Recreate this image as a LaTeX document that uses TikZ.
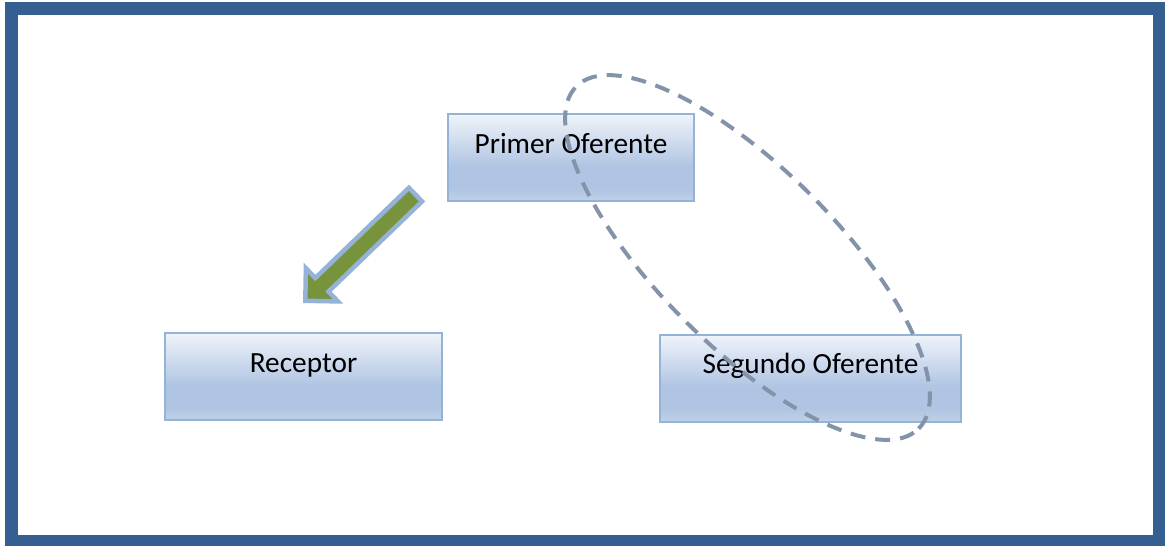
\documentclass[tikz,border=0pt]{standalone}
\usepackage{fontspec}
\setmainfont{Carlito}
\definecolor{framecol}{RGB}{54,95,145}
\definecolor{boxborder}{RGB}{149,179,215}
\definecolor{boxtop}{RGB}{240,244,250}
\definecolor{boxbot}{RGB}{176,197,227}
\definecolor{boxlow}{RGB}{190,207,232}
\definecolor{ellcol}{RGB}{131,148,170}
\definecolor{arrowfill}{RGB}{119,147,60}
\definecolor{arrowline}{RGB}{149,179,215}
\pgfdeclareverticalshading{boxshade}{100bp}{color(0bp)=(boxlow); color(26bp)=(boxlow); color(32bp)=(boxbot); color(45bp)=(boxbot); color(75bp)=(boxtop); color(100bp)=(boxtop)}
\tikzset{
  box/.style={draw=boxborder, line width=2pt, shade, shading=boxshade,
    minimum height=87pt, text height=20pt, text depth=29pt, inner sep=0pt,
    font=\fontsize{29.3}{34}\selectfont, text=black},
  framebox/.style={draw=framecol, line width=13pt},
  blockarrow/.style={draw=arrowline, fill=arrowfill, line width=4.5pt, line join=miter},
  groupring/.style={draw=ellcol, line width=4pt, dash pattern=on 15pt off 10pt}
}
\begin{document}
\begin{tikzpicture}[x=1pt,y=-1pt]
\useasboundingbox (0,0) rectangle (1165,546);
\draw[framebox] (11.5,8) rectangle (1159,541);
\node[box, minimum width=246pt] (p1) at (571,157.5) {Primer Oferente};
\node[box, minimum width=277pt] (rec) at (303.5,376.5) {Receptor};
\node[box, minimum width=301pt] (p2) at (810.5,378) {Segundo Oferente};
\draw[blockarrow] (305.3,300.8) -- (337.9,301.4) -- (328.5,291.6) -- (422.1,201.4)
  -- (408.9,187.8) -- (315.3,278.0) -- (305.9,268.2) -- cycle;
\coordinate (ringc) at (747.5,257.5);
\draw[groupring, rotate around={-45:(ringc)}] (ringc) ellipse [x radius=242pt, y radius=89pt];
\end{tikzpicture}
\end{document}
